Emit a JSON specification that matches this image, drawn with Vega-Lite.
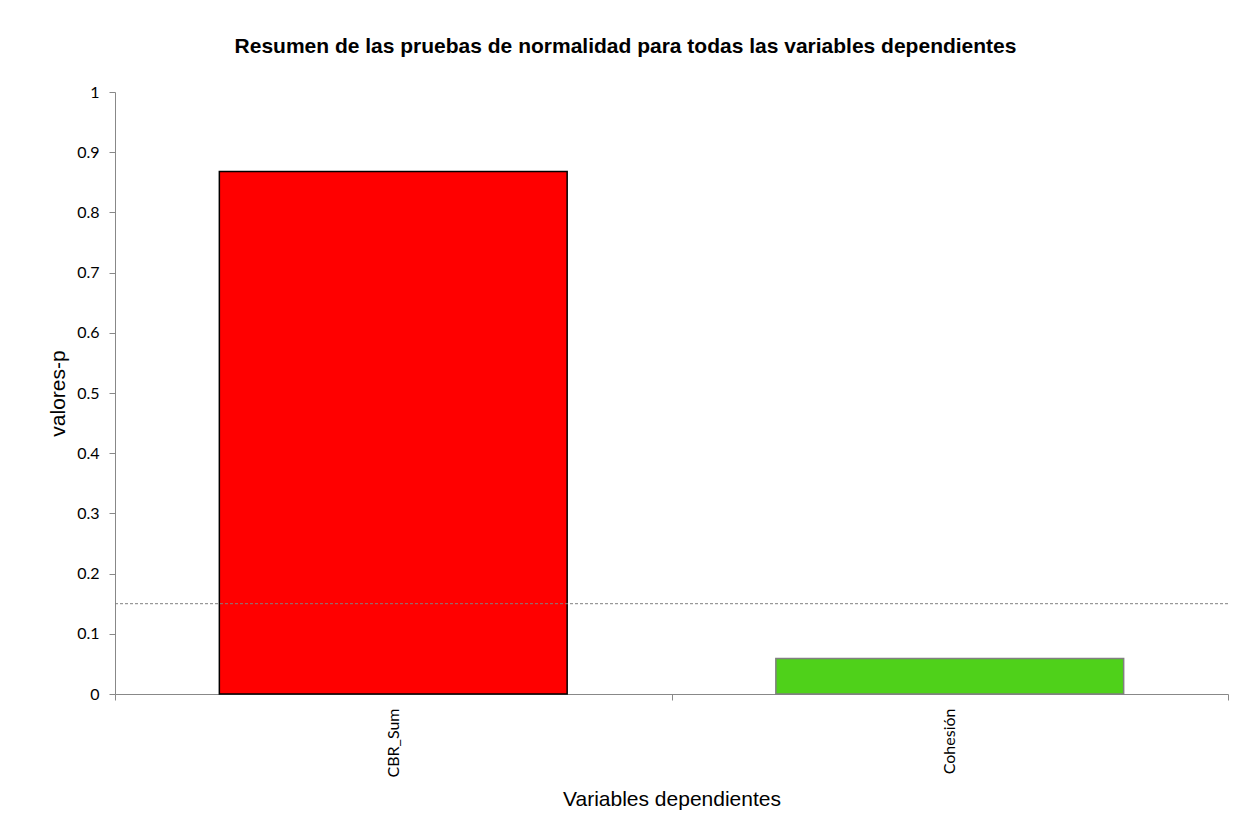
{
  "$schema": "https://vega.github.io/schema/vega-lite/v6.json",
  "autosize": {"type": "none"},
  "padding": {"left": 115, "top": 92, "right": 23, "bottom": 146},
  "width": 1113,
  "height": 602,
  "background": "white",
  "title": {
    "text": "Resumen de las pruebas de normalidad para todas las variables dependientes",
    "font": "Liberation Sans",
    "fontSize": 21,
    "fontWeight": "bold",
    "color": "#000000",
    "anchor": "middle",
    "dx": -46,
    "offset": 27
  },
  "datasets": {
    "bars": [
      {"variable": "CBR_Sum", "p": 0.868, "grupo": "rojo"},
      {"variable": "Cohesión", "p": 0.059, "grupo": "verde"}
    ],
    "umbral": [{"p": 0.15}]
  },
  "config": {
    "view": {"stroke": null},
    "axis": {"domainColor": "#888888", "tickColor": "#888888", "labelColor": "#000000", "titleColor": "#000000"}
  },
  "layer": [
    {
      "data": {"name": "bars"},
      "mark": {"type": "bar", "strokeWidth": 1.5, "width": {"band": 0.625}},
      "encoding": {
        "x": {
          "field": "variable",
          "type": "nominal",
          "sort": null,
          "scale": {"paddingInner": 0, "paddingOuter": 0},
          "axis": {
            "title": "Variables dependientes",
            "titleFont": "Liberation Sans",
            "titleFontSize": 21,
            "titleFontWeight": "normal",
            "titlePadding": 12,
            "labelAngle": -90,
            "labelAlign": "right",
            "labelBaseline": "middle",
            "labelFont": "Lato",
            "labelFontSize": 16,
            "labelPadding": 8,
            "tickBand": "extent",
            "tickSize": 6
          }
        },
        "y": {
          "field": "p",
          "type": "quantitative",
          "scale": {"domain": [0, 1], "nice": false},
          "axis": {
            "title": "valores-p",
            "titleFont": "Liberation Sans",
            "titleFontSize": 21,
            "titleFontWeight": "normal",
            "titlePadding": 8,
            "values": [0, 0.1, 0.2, 0.3, 0.4, 0.5, 0.6, 0.7, 0.8, 0.9, 1],
            "format": ".1~f",
            "grid": false,
            "labelFont": "Lato",
            "labelFontSize": 16,
            "labelPadding": 10,
            "tickSize": 6
          }
        },
        "fill": {
          "field": "grupo",
          "type": "nominal",
          "scale": {"domain": ["rojo", "verde"], "range": ["#FF0000", "#4FD11A"]},
          "legend": null
        },
        "stroke": {
          "field": "grupo",
          "type": "nominal",
          "scale": {"domain": ["rojo", "verde"], "range": ["#000000", "#808080"]},
          "legend": null
        }
      }
    },
    {
      "data": {"name": "umbral"},
      "mark": {"type": "rule", "color": "#808080", "strokeDash": [3, 2], "strokeWidth": 1},
      "encoding": {
        "y": {"field": "p", "type": "quantitative"}
      }
    }
  ]
}
